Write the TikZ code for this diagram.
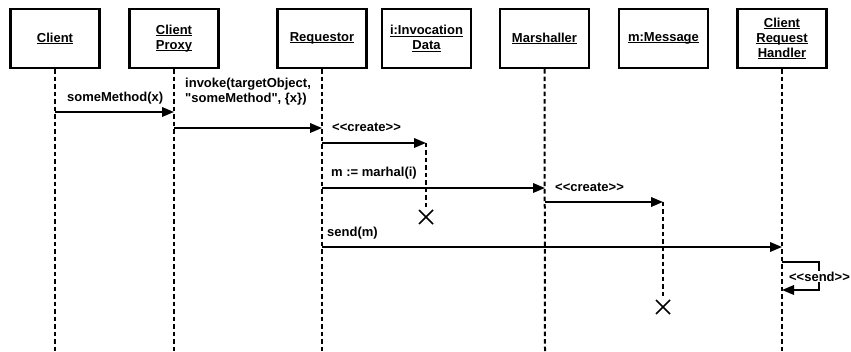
\documentclass[tikz,border=0pt]{standalone}
\usepackage{fontspec}
\newfontfamily\labfont{Liberation Sans}
\usetikzlibrary{arrows.meta}
% bold sans text used for every label in the diagram
\newcommand\txt{\labfont\bfseries\fontsize{13}{14.8}\selectfont}
% underline that sits just below the baseline, not below descenders
\newsavebox\ulbox
\newcommand\ulname[1]{\sbox\ulbox{#1}\rlap{\rule[-1.8pt]{\wd\ulbox}{1pt}}\usebox\ulbox}
\begin{document}
\begin{tikzpicture}[x=1pt,y=-1pt,
  obj/.style={draw, line width=2.2pt, minimum width=89pt, minimum height=59pt,
    inner sep=2pt, align=center, font=\txt},
  lifeline/.style={line width=2pt, dash pattern=on 4.5pt off 3pt},
  msg/.style={line width=1.9pt, -{Triangle[length=12pt,width=9.5pt]}},
  lbl/.style={anchor=base west, inner sep=0pt, align=left, font=\txt},
  killmark/.style={line width=1.6pt}]
\useasboundingbox (0,0) rectangle (851,352);

% participants
\node[obj] (client) at (55,38.5)  {\ulname{Client}};
\node[obj] (proxy)  at (174,38.5) {\ulname{Client}\\\ulname{Proxy}};
\node[obj] (req)    at (322,38.5) {\ulname{Requestor}};
\node[obj] (inv)    at (426.5,38.5) {\ulname{i:Invocation}\\\ulname{Data}};
\node[obj] (mar)    at (544.5,38.5) {\ulname{Marshaller}};
\node[obj] (mobj)   at (663.5,38.5) {\ulname{m:Message}};
\node[obj] (crh)    at (782,38.5) {\ulname{Client}\\\ulname{Request}\\\ulname{Handler}};

% lifeline ends and message points
\coordinate (clientEnd) at (55,352);
\coordinate (proxyEnd)  at (174,352);
\coordinate (reqEnd)    at (322,352);
\coordinate (marEnd)    at (545,352);
\coordinate (crhEnd)    at (782,352);

\coordinate (a1) at (55,112);   \coordinate (b1) at (174,112);
\coordinate (a2) at (174,128);  \coordinate (b2) at (322,128);
\coordinate (a3) at (322,143);  \coordinate (invStart) at (426,143);
\coordinate (a4) at (322,188);  \coordinate (b4) at (545,188);
\coordinate (a5) at (545,202);  \coordinate (mStart) at (663,202);
\coordinate (a6) at (322,247);  \coordinate (b6) at (782,247);
\coordinate (s1) at (782,262);  \coordinate (s2) at (819,262);
\coordinate (s3) at (819,290);  \coordinate (s4) at (782,290);
\coordinate (invX) at (426,217);
\coordinate (mX)   at (663,307);

% lifelines
\draw[lifeline] (client.south) -- (clientEnd);
\draw[lifeline] (proxy.south)  -- (proxyEnd);
\draw[lifeline] (req.south)    -- (reqEnd);
\draw[lifeline] (mar.south)    -- (marEnd);
\draw[lifeline] (crh.south)    -- (crhEnd);
\draw[lifeline] (invStart) -- ([shift={(0,-8)}]invX);
\draw[lifeline] (mStart)   -- ([shift={(0,-8)}]mX);

% destruction marks
\draw[killmark] ([shift={(-7,-7)}]invX) -- ([shift={(7,7)}]invX)
                ([shift={(-7,7)}]invX) -- ([shift={(7,-7)}]invX);
\draw[killmark] ([shift={(-7,-7)}]mX) -- ([shift={(7,7)}]mX)
                ([shift={(-7,7)}]mX) -- ([shift={(7,-7)}]mX);

% messages
\draw[msg] (a1) -- (b1);
\node[lbl] (l1) at (67,102) {someMethod(x)};
\draw[msg] (a2) -- (b2);
\node[lbl] (l2) at (185,102.5) {invoke(targetObject,\\"someMethod", \{x\})};
\draw[msg] (a3) -- (invStart);
\node[lbl] (l3) at (332,132) {<\kern0pt<create>\kern0pt>};
\draw[msg] (a4) -- (b4);
\node[lbl] (l4) at (331,177) {m := marhal(i)};
\draw[msg] (a5) -- (mStart);
\node[lbl] (l5) at (555,192) {<\kern0pt<create>\kern0pt>};
\draw[msg] (a6) -- (b6);
\node[lbl] (l6) at (327,236.5) {send(m)};

% self message
\draw[msg] (s1) -- (s2) -- (s3) -- (s4);
\node[font=\txt, fill=white, inner sep=1pt] (l7) at (819.5,276.5) {<\kern0pt<send>\kern0pt>};
\end{tikzpicture}
\end{document}
